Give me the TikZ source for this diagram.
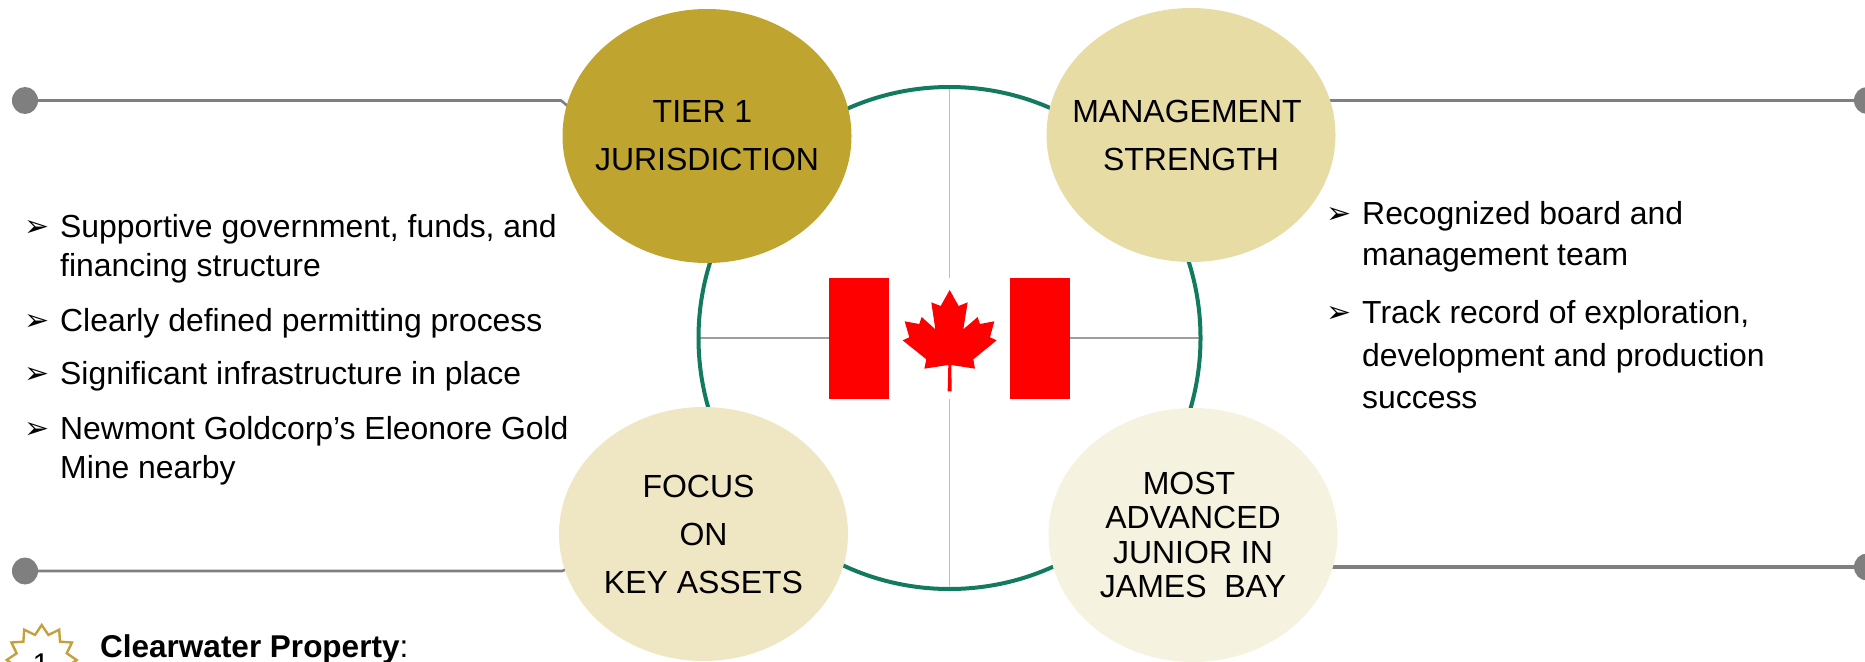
\documentclass[tikz,border=0pt]{standalone}
\usepackage{fontspec}
\setmainfont{Liberation Sans}
\newfontfamily\dvfont{DejaVu Sans}
\usetikzlibrary{shapes.geometric,backgrounds}
\definecolor{tiergold}{HTML}{BFA530}
\definecolor{mgmtbeige}{HTML}{E8DCA5}
\definecolor{focusbeige}{HTML}{EFE7C3}
\definecolor{mostbeige}{HTML}{F5F2E0}
\definecolor{ringgreen}{HTML}{127A5E}
\definecolor{leadgray}{HTML}{7F7F7F}
\definecolor{stargold}{HTML}{C4A13C}
\tikzset{
  blob/.style={ellipse,draw=none,minimum width=289pt,minimum height=254pt,inner xsep=-60pt,inner ysep=-40pt,align=center,text=black,
     font=\fontsize{32}{48}\selectfont},
  dotend/.style={ellipse,fill=leadgray,draw=none,minimum width=26pt,minimum height=27pt,inner sep=0pt},
  lead/.style={draw=leadgray,line width=2.6pt,line join=round},
  crossv/.style={draw=black!25,line width=1.6pt},
  crossh/.style={draw=black!38,line width=1.6pt},
  body/.style={anchor=base west,inner sep=0pt,font=\fontsize{31.9}{38}\selectfont,text=black},
  bul/.style={anchor=base west,inner sep=0pt,font=\dvfont\fontsize{30}{36}\selectfont,text=black},
}
\newcommand{\bulletchar}{\symbol{"27A2}}
\begin{document}
\begin{tikzpicture}[x=1pt,y=-1pt]
\useasboundingbox (0,0) rectangle (1865,661);
\clip (0,0) rectangle (1865,661);
% hubs
\node[blob,fill=tiergold] (tier) at (707,136) {TIER 1\hspace*{9pt}\\JURISDICTION};
\node[blob,fill=mgmtbeige] (mgmt) at (1191,135) {MANAGEMENT\hspace*{8pt}\\STRENGTH};
\node[blob,fill=focusbeige] (focus) at (703.5,534) {FOCUS\hspace*{10pt}\\ON\\KEY ASSETS};
\node[blob,fill=mostbeige,font=\fontsize{32}{34.5}\selectfont] (most) at (1193,535) {MOST\hspace*{8pt}\\ADVANCED\hspace*{15pt}\\JUNIOR IN\hspace*{16pt}\\JAMES\ \ BAY};
% dots
\node[dotend] (dotTL) at (25,100.5) {};
\node[dotend] (dotBL) at (25,571) {};
\node[dotend] (dotTR) at (1867,100.5) {};
\node[dotend] (dotBR) at (1867,567) {};
\coordinate (kinkTL) at (561,100.5);
\coordinate (endTL) at (575,112);
\coordinate (kinkBL) at (562,571);
\coordinate (endBL) at (572,567);
\coordinate (endTR) at (1325,100.5);
\coordinate (endBR) at (1330,567);
% flag
\node[draw=none,fill=white,minimum width=241pt,minimum height=121pt,inner sep=0pt] (flag) at (949.5,338.5) {};
\node[fill=red,minimum width=60pt,minimum height=121pt,inner sep=0pt,anchor=west] (redL) at (flag.west) {};
\node[fill=red,minimum width=60pt,minimum height=121pt,inner sep=0pt,anchor=east] (redR) at (flag.east) {};
\begin{scope}[xshift=800pt,yshift=-250pt,x=0.3333pt,y=-0.3333pt]
\fill[red]
 (449,120)--(476,168)--(503,157)--(490,238)--(533,201)--(540,222)--(583,214)--(570,262)--(590,271)--(520,328)--(525,356)--(454,345)
 --(455,424)--(443,424)--(445,345)--(373,356)--(379,328)--(308,271)--(328,262)--(314,214)--(358,222)--(365,201)--(406,238)--(394,157)--(422,168)--cycle;
\end{scope}
\node[circle,draw=none,minimum size=502pt,inner sep=0pt] (ring) at (949.5,338) {};
\begin{scope}[on background layer]
  \draw[crossv] (ring.north) -- (ring.south);
  \draw[crossh] (ring.west) -- (ring.east);
  \draw[ringgreen,line width=4pt] (ring.center) circle[radius=251pt];
  \draw[lead] (dotTL.center) -- (kinkTL) -- (endTL);
  \draw[lead] (dotBL.center) -- (kinkBL) -- (endBL);
  \draw[lead] (endTR) -- (dotTR.center);
  \draw[lead,line width=3.4pt] (endBR) -- (dotBR.center);
\end{scope}
% left list
\node[bul] (b1) at (24,236) {\bulletchar};
\node[body] (t1) at (60,237) {Supportive government, funds, and};
\node[body] (t1b) at (60,276) {financing structure};
\node[bul] (b2) at (24,330) {\bulletchar};
\node[body] (t2) at (60,331) {Clearly defined permitting process};
\node[bul] (b3) at (24,383) {\bulletchar};
\node[body] (t3) at (60,384) {Significant infrastructure in place};
\node[bul] (b4) at (24,438) {\bulletchar};
\node[body] (t4) at (60,439) {Newmont Goldcorp’s Eleonore Gold};
\node[body] (t4b) at (60,478) {Mine nearby};
% right list
\node[bul] (b5) at (1326,223) {\bulletchar};
\node[body] (t5) at (1362,224) {Recognized board and};
\node[body] (t5b) at (1362,265) {management team};
\node[bul] (b6) at (1326,322) {\bulletchar};
\node[body] (t6) at (1362,323) {Track record of exploration,};
\node[body] (t6b) at (1362,366) {development and production};
\node[body] (t6c) at (1362,408) {success};
% badge
\node[star,star points=12,star point ratio=1.35,minimum size=70pt,inner sep=0pt,draw=stargold,line width=2.4pt] (badge) at (41.7,660) {};
\node[anchor=base,inner sep=0pt,font=\fontsize{30}{36}\selectfont] (badgenum) at (41,674) {1};
\node[body,font=\fontsize{31.5}{38}\selectfont] (cw) at (100,657) {\textbf{Clearwater Property}:};
\end{tikzpicture}
\end{document}
